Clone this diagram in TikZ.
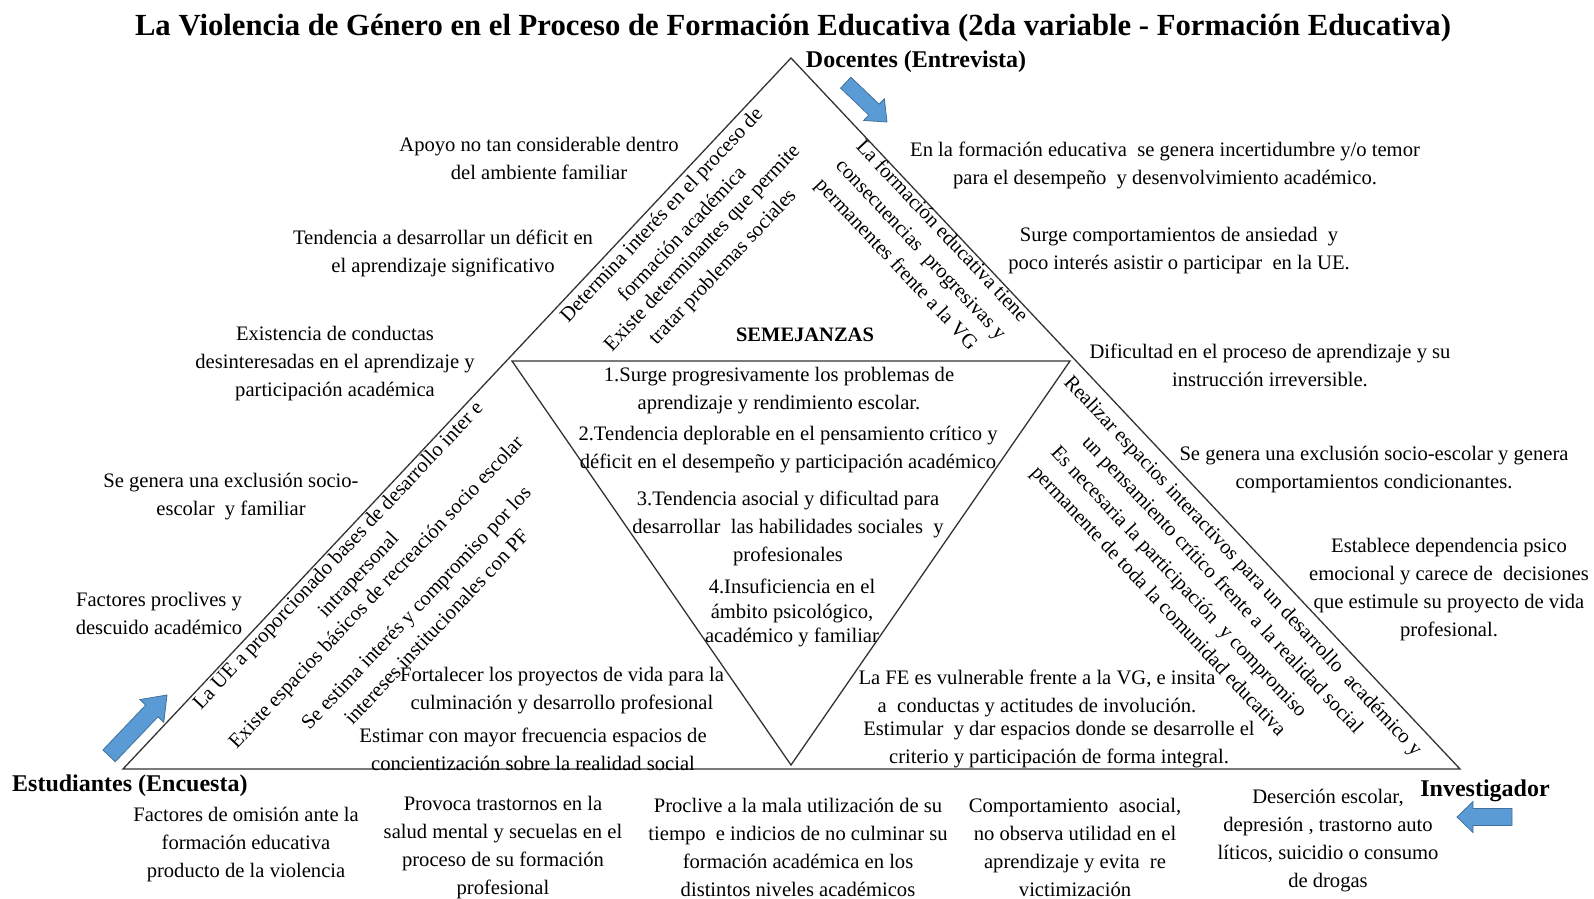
\documentclass[tikz,border=0pt]{standalone}
\usepackage{fontspec}
\setmainfont{Liberation Serif}
\definecolor{arrowblue}{HTML}{5B9BD5}
\definecolor{arrowedge}{HTML}{41719C}
\definecolor{linegray}{HTML}{333333}
\begin{document}
\begin{tikzpicture}[x=1pt,y=-1pt,
  txt/.style={font=\fontsize{20.6}{28}\selectfont, align=center, inner sep=0pt},
  txttight/.style={font=\fontsize{20.6}{24.4}\selectfont, align=center, inner sep=0pt},
  lbl/.style={font=\bfseries\fontsize{24}{28}\selectfont, inner sep=0pt},
  titlestyle/.style={font=\bfseries\fontsize{30.7}{34}\selectfont, inner sep=0pt},
  semstyle/.style={font=\bfseries\fontsize{20.5}{24}\selectfont, inner sep=0pt},
  triline/.style={draw=linegray, line width=1.3pt, line join=miter},
  blockarrow/.style={fill=arrowblue, draw=arrowedge, line width=0.8pt, line join=miter}]
\useasboundingbox (0,0) rectangle (1594,898);

% triangles
\coordinate (apex) at (791,58);
\coordinate (bl) at (123,769);
\coordinate (br) at (1460,769);
\coordinate (itl) at (512,361);
\coordinate (itr) at (1070,361);
\coordinate (ib) at (791,765);
\draw[triline] (apex) -- (bl) -- (br) -- cycle;
\draw[triline] (itl) -- (itr) -- (ib) -- cycle;

% block arrows
\begin{scope}[shift={(887,122)}, rotate=-43.6]
  \draw[blockarrow] (0,0) -- (-18,15) -- (-18,7.5) -- (-57,7.5) -- (-57,-7.5) -- (-18,-7.5) -- (-18,-15) -- cycle;
\end{scope}
\begin{scope}[shift={(167,695)}, rotate=46.4]
  \draw[blockarrow] (0,0) -- (-22,16.5) -- (-22,8.5) -- (-84,8.5) -- (-84,-8.5) -- (-22,-8.5) -- (-22,-16.5) -- cycle;
\end{scope}
\begin{scope}[shift={(1457,817)}, rotate=180]
  \draw[blockarrow] (0,0) -- (-16,15.5) -- (-16,8.5) -- (-55,8.5) -- (-55,-8.5) -- (-16,-8.5) -- (-16,-15.5) -- cycle;
\end{scope}

% title and labels
\node[titlestyle] (title) at (793,28) {La Violencia de Género en el Proceso de Formación Educativa (2da variable - Formación Educativa)};
\node[lbl] (docentes) at (916,62) {Docentes (Entrevista)};
\node[lbl, anchor=west] (estudiantes) at (12,786) {Estudiantes (Encuesta)};
\node[lbl] (investigador) at (1485,791) {Investigador};
\node[semstyle] (semejanzas) at (805,335) {SEMEJANZAS};

% left outside texts
\node[txt] (l1) at (539,158) {Apoyo no tan considerable dentro\\del ambiente familiar};
\node[txt] (l2) at (443,253) {Tendencia a desarrollar un déficit en\\el aprendizaje significativo};
\node[txt] (l3) at (335,364) {Existencia de conductas\\desinteresadas en el aprendizaje y\\participación académica};
\node[txt] (l4) at (231,497) {Se genera una exclusión socio-\\escolar\ \ y familiar};
\node[txt] (l5) at (159,613) {Factores proclives y\\descuido académico};

% right outside texts
\node[txt] (r1) at (1165,165) {En la formación educativa\ \ se genera incertidumbre y/o temor\\para el desempeño\ \ y desenvolvimiento académico.};
\node[txt] (r2) at (1179,251) {Surge comportamientos de ansiedad\ \ y\\poco interés asistir o participar\ \ en la UE.};
\node[txt] (r3) at (1270,365) {Dificultad en el proceso de aprendizaje y su\\instrucción irreversible.};
\node[txt] (r4) at (1374,470) {Se genera una exclusión socio-escolar y genera\\comportamientos condicionantes.};
\node[txt] (r5) at (1449,590) {Establece dependencia psico\\emocional y carece de\ \ decisiones\\que estimule su proyecto de vida\\profesional.};

% bottom texts
\node[txt] (b1) at (246,845) {Factores de omisión ante la\\formación educativa\\producto de la violencia};
\node[txt] (b2) at (503,848) {Provoca trastornos en la\\salud mental y secuelas en el\\proceso de su formación\\profesional};
\node[txt] (b3) at (798,847) {Proclive a la mala utilización de su\\tiempo\ \ e indicios de no culminar su\\formación académica en los\\distintos niveles académicos};
\node[txt] (b4) at (1075,847) {Comportamiento\ \ asocial,\\no observa utilidad en el\\aprendizaje y evita\ \ re\\victimización};
\node[txt] (b5) at (1328,841) {Deserción escolar,\\depresión , trastorno auto\\líticos, suicidio o consumo\\de drogas};

% inside bottom texts
\node[txt] (i1) at (562,691) {Fortalecer los proyectos de vida para la\\culminación y desarrollo profesional};
\node[txt] (i2) at (533,749) {Estimar con mayor frecuencia espacios de\\concientización sobre la realidad social};
\node[txt] (i3) at (1037,693) {La FE es vulnerable frente a la VG, e insita\\a\ \ conductas y actitudes de involución.};
\node[txt] (i4) at (1059,745) {Estimular\ \ y dar espacios donde se desarrolle el\\criterio y participación de forma integral.};

% inner triangle texts
\node[txt] (s1) at (779,391) {1.Surge progresivamente los problemas de\\aprendizaje y rendimiento escolar.};
\node[txt] (s2) at (788,449.5) {2.Tendencia deplorable en el pensamiento crítico y\\déficit en el desempeño y participación académico};
\node[txt] (s3) at (788,528) {3.Tendencia asocial y dificultad para\\desarrollar\ \ las habilidades sociales\ \ y\\profesionales};
\node[txttight] (s4) at (792,613) {4.Insuficiencia en el\\ámbito psicológico,\\académico y familiar};

% rotated texts upper left
\node[txt, rotate=46.8] (ua) at (671,224) {Determina interés en el proceso de\\formación académica};
\node[txt, rotate=46.8] (ub) at (713,258) {Existe determinantes que permite\\tratar problemas sociales};
% rotated upper right
\node[txt, rotate=-46.8, align=left] (uc) at (921,251) {La formación educativa tiene\\consecuencias\ \ progresivas y\\permanentes frente a la VG};
% rotated lower left
\node[txt, rotate=46.8] (la) at (349,566) {La UE a proporcionado bases de desarrollo inter e\\intrapersonal};
\node[txt, rotate=46.8] (lb) at (377,593) {Existe espacios básicos de recreación socio escolar};
\node[txt, rotate=46.8] (lc) at (426,617) {Se estima interés y compromiso por los\\intereses institucionales con PF};
% rotated lower right
\node[txt, rotate=-46.8] (ra) at (1232,576) {Realizar espacios interactivos para un desarrollo\ \ académico y\\un pensamiento crítico frente a la realidad social};
\node[txt, rotate=-46.8] (rb) at (1168,592) {Es necesaria la participación\ \ y compromiso\\permanente de toda la comunidad educativa};
\end{tikzpicture}
\end{document}
